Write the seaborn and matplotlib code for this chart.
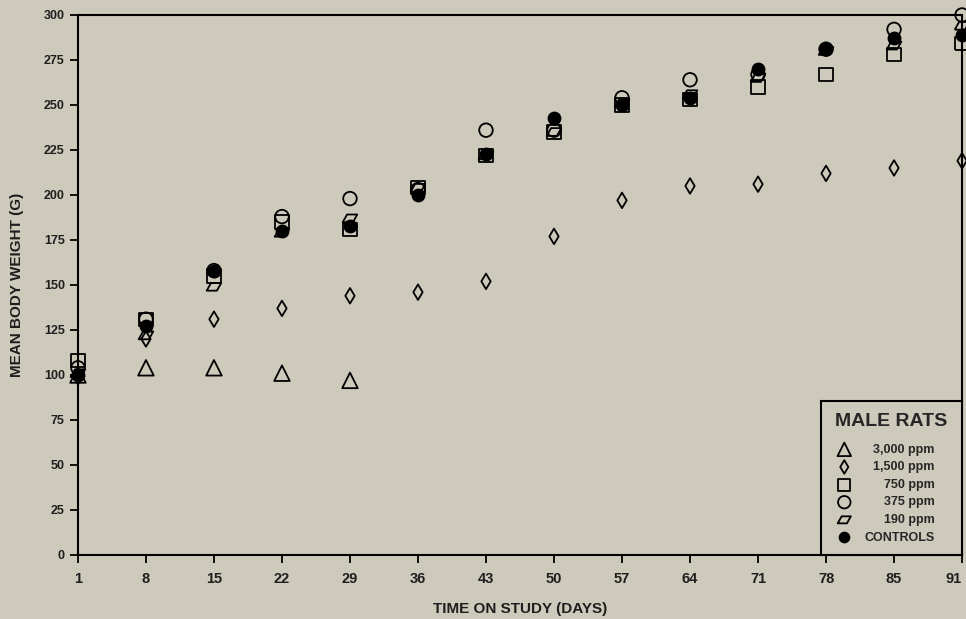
import numpy as np
import pandas as pd
import matplotlib
matplotlib.use("Agg")
import matplotlib.pyplot as plt
from matplotlib.path import Path
import seaborn as sns

# ---- data ----
day_labels = ["1", "8", "15", "22", "29", "36", "43", "50", "57", "64", "71", "78", "85", "91"]
days_3000 = ["1", "8", "15", "22", "29"]
w_3000 = [100, 104, 104, 101, 97]
w_1500 = [99, 120, 131, 137, 144, 146, 152, 177, 197, 205, 206, 212, 215, 219]
w_750 = [108, 131, 155, 185, 181, 204, 222, 235, 250, 253, 260, 267, 278, 284]
w_375 = [104, 131, 158, 188, 198, 203, 236, 236, 254, 264, 267, 281, 292, 300]
w_190 = [101, 122, 149, 179, 187, 204, 222, 235, 251, 256, 265, 280, 283, 294]
w_ctrl = [100, 127, 158, 180, 183, 200, 223, 243, 250, 254, 270, 281, 287, 289]
series_labels = ["3,000 ppm", "1,500 ppm", "750 ppm", "375 ppm", "190 ppm", "CONTROLS"]

BG = "#cdc9bb"
INK = "#1e1e1e"

sns.set_theme(style="white")
plt.rcParams["font.family"] = ["Liberation Sans", "DejaVu Sans"]

fig = plt.figure(figsize=(9.66, 6.19), dpi=100, facecolor=BG)
ax = fig.add_axes([0.0807, 0.1034, 0.9152, 0.8724])
ax.set_facecolor(BG)

diamond = Path([(0, 1), (0.6, 0), (0, -1), (-0.6, 0), (0, 1)],
               [Path.MOVETO, Path.LINETO, Path.LINETO, Path.LINETO, Path.CLOSEPOLY])
para = Path([(-0.75, -0.4), (0.3, -0.4), (0.75, 0.4), (-0.3, 0.4), (-0.75, -0.4)],
            [Path.MOVETO, Path.LINETO, Path.LINETO, Path.LINETO, Path.CLOSEPOLY])

specs = [
    (days_3000, w_3000, "^", 125, "none"),
    (day_labels, w_1500, diamond, 125, "none"),
    (day_labels, w_750, "s", 90, "none"),
    (day_labels, w_375, "o", 95, "none"),
    (day_labels, w_190, para, 110, "none"),
    (day_labels, w_ctrl, "o", 75, "black"),
]
legend_sizes = [95, 95, 75, 80, 90, 50]

for (xs, ys, mk, sz, fc), lab in zip(specs, series_labels):
    df = pd.DataFrame({"day": pd.Categorical(xs, categories=day_labels), "w": ys})
    df["code"] = df["day"].cat.codes
    sns.scatterplot(data=df, x="code", y="w", marker=mk, s=sz, facecolors=fc,
                    edgecolors="black", color="black", linewidth=1.3, ax=ax,
                    label=lab, clip_on=False, zorder=3)

ax.set_xlim(0, len(day_labels) - 1)
ax.set_ylim(0, 300)
ax.set_xticks(range(len(day_labels)))
ax.set_xticklabels(day_labels)
ax.set_yticks(np.arange(0, 301, 25))

for s in ax.spines.values():
    s.set_color("black")
    s.set_linewidth(1.5)
ax.tick_params(axis="both", which="both", direction="out", length=6, width=1.3,
               color="black", left=True, bottom=True)
ax.tick_params(axis="x", pad=6)
for t in ax.get_yticklabels():
    t.set_fontsize(9)
    t.set_fontweight("bold")
    t.set_color(INK)
xt = ax.get_xticklabels()
for t in xt:
    t.set_fontsize(10.5)
    t.set_fontweight("bold")
    t.set_color(INK)
    t.set_fontstretch("condensed")
xt[-1].set_ha("right")

ax.set_xlabel("TIME ON STUDY (DAYS)", fontsize=11, fontweight="bold", color=INK, labelpad=12)
ax.set_ylabel("MEAN BODY WEIGHT (G)", fontsize=11, fontweight="bold", color=INK, labelpad=14)

leg = ax.legend(title="MALE RATS", loc="lower right", frameon=True, fancybox=False,
                edgecolor="black", facecolor=BG, framealpha=1, borderaxespad=0,
                handletextpad=1.9, labelspacing=0.45, borderpad=0.9, handlelength=2.0,
                prop={"weight": "bold", "size": 9},
                title_fontproperties={"weight": "bold", "size": 14})
leg.get_frame().set_linewidth(1.5)
# extra gap between the title and the entries
try:
    leg._legend_box.sep = 10
except Exception:
    pass
for h, sz in zip(leg.legend_handles, legend_sizes):
    try:
        h.set_sizes([sz])
    except Exception:
        pass

# right-align legend labels, leaving extra room on the right
RIGHT_GAP = 16
fig.canvas.draw()
renderer = fig.canvas.get_renderer()
texts = leg.get_texts()
target = max(t.get_window_extent(renderer).x1 for t in texts) - RIGHT_GAP
for t in texts:
    t.set_ha("right")
    t.set_position((0, 0))
fig.canvas.draw()
r0 = [t.get_window_extent(renderer).x1 for t in texts]
for t, r in zip(texts, r0):
    t.set_position((target - r, 0))
fig.canvas.draw()
r1 = [t.get_window_extent(renderer).x1 for t in texts]
for t, a, b in zip(texts, r0, r1):
    d = target - a
    if abs(b - a) > 1e-6 and abs(d) > 1e-6:
        f = (b - a) / d
        t.set_position((d / f, 0))

fig.savefig("out.png", dpi=100, facecolor=BG)
